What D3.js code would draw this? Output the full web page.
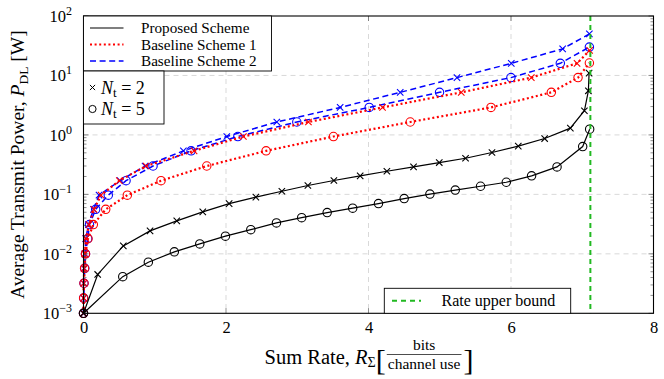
<!DOCTYPE html>
<html>
<head>
<meta charset="utf-8">
<script src="https://cdn.jsdelivr.net/npm/d3@7"></script>
<style>
body { margin: 0; background: #fff; }
text { font-family: "Liberation Serif", "DejaVu Serif", serif; fill: #000; }
</style>
</head>
<body>
<svg id="chart" width="664" height="379"></svg>
<script>
// Proposed scheme
const propRate2 = [0, 0.199, 0.559, 0.934, 1.309, 1.674, 2.044, 2.419, 2.784, 3.149, 3.514, 3.883, 4.258, 4.632, 4.993, 5.362, 5.733, 6.102, 6.472, 6.833, 7.03, 7.086, 7.096];
const propPow2  = [0.001, 0.0045, 0.0136, 0.0243, 0.0358, 0.0507, 0.070, 0.090, 0.113, 0.141, 0.171, 0.205, 0.245, 0.290, 0.343, 0.405, 0.506, 0.648, 0.869, 1.30, 2.55, 5.52, 10.97];
const propRate5 = [0, 0.551, 0.910, 1.275, 1.632, 1.992, 2.348, 2.708, 3.062, 3.420, 3.778, 4.140, 4.501, 4.862, 5.218, 5.573, 5.934, 6.289, 6.646, 7.006, 7.104];
const propPow5  = [0.001, 0.00413, 0.00723, 0.0108, 0.0147, 0.0198, 0.0255, 0.0331, 0.0406, 0.0494, 0.0586, 0.070, 0.085, 0.101, 0.118, 0.137, 0.160, 0.205, 0.290, 0.638, 1.25];

// Baseline scheme 1
const b1Rate2 = [0, 0.002, 0.004, 0.010, 0.018, 0.035, 0.077, 0.147, 0.246, 0.503, 0.878, 1.552, 2.244, 3.157, 4.197, 5.302, 6.285, 6.927, 7.104];
const b1Pow2  = [0.001, 0.0018, 0.0032, 0.0057, 0.010, 0.018, 0.031, 0.056, 0.097, 0.17, 0.30, 0.54, 0.94, 1.65, 2.9, 5.2, 9.2, 16, 26.4];
const b1Rate5 = [0, 0.002, 0.007, 0.015, 0.028, 0.063, 0.138, 0.312, 0.615, 1.088, 1.730, 2.563, 3.508, 4.586, 5.719, 6.566, 6.941, 7.100];
const b1Pow5  = [0.001, 0.0018, 0.0032, 0.0057, 0.010, 0.018, 0.031, 0.056, 0.097, 0.17, 0.30, 0.54, 0.94, 1.65, 2.9, 5.2, 9.2, 16.2];

// Baseline scheme 2
const b2Rate2 = [0, 0.002, 0.004, 0.011, 0.021, 0.032, 0.070, 0.140, 0.218, 0.513, 0.864, 1.402, 2.011, 2.713, 3.602, 4.445, 5.242, 6.004, 6.725, 7.100];
const b2Pow2  = [0.001, 0.0018, 0.0032, 0.0057, 0.010, 0.018, 0.031, 0.056, 0.097, 0.17, 0.30, 0.54, 0.94, 1.65, 2.9, 5.2, 9.2, 16, 28, 50];
const b2Rate5 = [0, 0.002, 0.007, 0.018, 0.028, 0.059, 0.084, 0.171, 0.348, 0.597, 0.976, 1.510, 2.166, 2.994, 4.010, 4.997, 5.999, 6.692, 7.100];
const b2Pow5  = [0.001, 0.0018, 0.0032, 0.0057, 0.010, 0.018, 0.031, 0.056, 0.097, 0.17, 0.30, 0.54, 0.94, 1.65, 2.9, 5.2, 9.2, 16, 30];

const rateBound = 7.114;
const xTicks = [0, 2, 4, 6, 8];
const yExps = [-3, -2, -1, 0, 1, 2];
const schemeNames = ["Proposed Scheme", "Baseline Scheme 1", "Baseline Scheme 2"];

const red = "#ff0000", blue = "#0000ff", green = "#22b922";
const styles = [
    {color: "#000", dash: null, width: 1.2},
    {color: red, dash: "2,2.6", width: 2.2},
    {color: blue, dash: "6,3.6", width: 1.5}
];

// drawn back to front: blue, red, black
const series = [
    {rate: b2Rate2, pow: b2Pow2, s: 2, m: "x"},
    {rate: b2Rate5, pow: b2Pow5, s: 2, m: "o"},
    {rate: b1Rate2, pow: b1Pow2, s: 1, m: "x"},
    {rate: b1Rate5, pow: b1Pow5, s: 1, m: "o"},
    {rate: propRate2, pow: propPow2, s: 0, m: "x"},
    {rate: propRate5, pow: propPow5, s: 0, m: "o"}
];

const L = 83.5, R = 653.5, T = 16, B = 313.3;
const x = d3.scaleLinear().domain([0, 8]).range([L, R]);
const y = d3.scaleLog().domain([1e-3, 1e2]).range([B, T]);

const svg = d3.select("#chart");

// grid
const grid = svg.append("g").attr("stroke", "#cfcfcf").attr("stroke-width", 0.8).attr("stroke-dasharray", "5,4");
grid.selectAll("line.vx").data([2, 4, 6]).enter().append("line")
    .attr("x1", d => x(d)).attr("x2", d => x(d)).attr("y1", T).attr("y2", B);
grid.selectAll("line.hy").data([1e-2, 1e-1, 1, 10]).enter().append("line")
    .attr("x1", L).attr("x2", R).attr("y1", d => y(d)).attr("y2", d => y(d));

// curves
const line = d3.line().x(d => x(d[0])).y(d => y(d[1]));
const xMark = "M-3.2,-3.2L3.2,3.2M-3.2,3.2L3.2,-3.2";

series.forEach(sr => {
    const st = styles[sr.s];
    const pts = sr.rate.map((r, i) => [r, sr.pow[i]]);
    svg.append("path").datum(pts)
        .attr("d", line)
        .attr("fill", "none")
        .attr("stroke", st.color)
        .attr("stroke-width", st.width)
        .attr("stroke-dasharray", st.dash);
    const g = svg.append("g").attr("stroke", st.color).attr("fill", "none").attr("stroke-width", 1.1);
    if (sr.m === "x") {
        g.selectAll("path").data(pts).enter().append("path")
            .attr("transform", d => `translate(${x(d[0])},${y(d[1])})`)
            .attr("d", xMark);
    } else {
        g.selectAll("circle").data(pts).enter().append("circle")
            .attr("cx", d => x(d[0])).attr("cy", d => y(d[1])).attr("r", 4.2);
    }
});

// rate upper bound
svg.append("line")
    .attr("x1", x(rateBound)).attr("x2", x(rateBound)).attr("y1", T).attr("y2", B)
    .attr("stroke", green).attr("stroke-width", 2).attr("stroke-dasharray", "5,4");

// ticks (inside, pgfplots style)
const minor = [];
yExps.slice(0, -1).forEach(e => { for (let k = 2; k <= 9; k++) minor.push(k * Math.pow(10, e)); });
const majorY = yExps.map(e => Math.pow(10, e));

const tickG = svg.append("g").attr("stroke", "#444").attr("stroke-width", 0.6);
[[L, 1], [R, -1]].forEach(([x0, dir]) => {
    tickG.append("g").selectAll("line").data(minor).enter().append("line")
        .attr("x1", x0).attr("x2", x0 + dir * 3).attr("y1", d => y(d)).attr("y2", d => y(d));
    tickG.append("g").selectAll("line").data(majorY).enter().append("line")
        .attr("x1", x0).attr("x2", x0 + dir * 5).attr("y1", d => y(d)).attr("y2", d => y(d));
});
[[B, -1], [T, 1]].forEach(([y0, dir]) => {
    tickG.append("g").selectAll("line").data(xTicks).enter().append("line")
        .attr("x1", d => x(d)).attr("x2", d => x(d)).attr("y1", y0).attr("y2", y0 + dir * 5);
});

// frame
svg.append("rect").attr("x", L).attr("y", T).attr("width", R - L).attr("height", B - T)
    .attr("fill", "none").attr("stroke", "#000").attr("stroke-width", 1.1);

// x tick labels
svg.append("g").call(d3.axisBottom(x).tickValues(xTicks).tickSize(0).tickPadding(8))
    .attr("transform", `translate(0,${B})`)
    .call(g => g.select(".domain").remove())
    .selectAll("text").attr("font-size", 16.5).attr("font-family", "Liberation Serif");

// y tick labels 10^k
const yl = svg.append("g").selectAll("text").data(yExps).enter().append("text")
    .attr("x", 72).attr("y", d => y(Math.pow(10, d)) + 6)
    .attr("text-anchor", "end").attr("font-size", 16.5);
yl.append("tspan").text("10");
yl.append("tspan").attr("dy", -7).attr("font-size", 12).text(d => d < 0 ? "\u2212" + (-d) : d);

// axis titles
const yt = svg.append("text").attr("transform", `translate(24,${(T + B) / 2}) rotate(-90)`)
    .attr("text-anchor", "middle").attr("font-size", 19.5);
yt.append("tspan").text("Average Transmit Power, ");
yt.append("tspan").attr("font-style", "italic").text("P");
yt.append("tspan").attr("font-size", 13.5).attr("dy", 4).text("DL");
yt.append("tspan").attr("dy", -4).text(" [W]");

const xt = svg.append("g");
const xMain = xt.append("text").attr("y", 363.5).attr("font-size", 20.5);
xMain.append("tspan").text("Sum Rate, ");
xMain.append("tspan").attr("font-style", "italic").text("R");
xMain.append("tspan").attr("font-size", 14).attr("dy", 3.5).text("\u03a3");
xMain.append("tspan").attr("dy", -3.5).text(" ");
const lb = xt.append("text").attr("y", 369.5).attr("font-size", 30).attr("font-weight", 100).text("[");
const fNum = xt.append("text").attr("y", 350).attr("font-size", 15.5).attr("text-anchor", "middle").text("bits");
const fDen = xt.append("text").attr("y", 368.5).attr("font-size", 15.5).attr("text-anchor", "middle").text("channel use");
const rb = xt.append("text").attr("y", 369.5).attr("font-size", 30).attr("font-weight", 100).text("]");
const wMain = xMain.node().getComputedTextLength();
const wLb = lb.node().getComputedTextLength();
const wDen = fDen.node().getComputedTextLength();
const wRb = rb.node().getComputedTextLength();
const total = wMain + wLb + wDen + 4 + wRb;
let cx = (L + R) / 2 - total / 2;
xMain.attr("x", cx); cx += wMain;
lb.attr("x", cx); cx += wLb + 1;
fNum.attr("x", cx + wDen / 2 + 1);
fDen.attr("x", cx + wDen / 2 + 1);
xt.append("line").attr("x1", cx).attr("x2", cx + wDen + 2).attr("y1", 354.5).attr("y2", 354.5)
    .attr("stroke", "#000").attr("stroke-width", 0.7);
cx += wDen + 4;
rb.attr("x", cx);

// legend: schemes
const lg1 = svg.append("g");
lg1.append("rect").attr("x", L).attr("y", T).attr("width", 188).attr("height", 55)
    .attr("fill", "#fff").attr("stroke", "#000").attr("stroke-width", 0.9);
schemeNames.forEach((name, i) => {
    const yy = 28 + i * 16.5;
    const st = styles[i];
    lg1.append("line").attr("x1", 90).attr("x2", 123.5).attr("y1", yy).attr("y2", yy)
        .attr("stroke", st.color).attr("stroke-width", st.width).attr("stroke-dasharray", st.dash);
    lg1.append("text").attr("x", 141).attr("y", yy + 5).attr("font-size", 15.2).text(name);
});

// legend: antennas
const lg2 = svg.append("g");
lg2.append("rect").attr("x", L).attr("y", 71).attr("width", 80.5).attr("height", 53)
    .attr("fill", "#fff").attr("stroke", "#000").attr("stroke-width", 0.9);
[{m: "x", n: 2, yy: 87.5}, {m: "o", n: 5, yy: 109}].forEach(d => {
    if (d.m === "x") {
        lg2.append("path").attr("transform", `translate(92.5,${d.yy})`)
            .attr("d", "M-2.6,-2.6L2.6,2.6M-2.6,2.6L2.6,-2.6").attr("stroke", "#000").attr("stroke-width", 1);
    } else {
        lg2.append("circle").attr("cx", 92.5).attr("cy", d.yy).attr("r", 3.6)
            .attr("fill", "none").attr("stroke", "#000").attr("stroke-width", 1);
    }
    const t = lg2.append("text").attr("x", 101).attr("y", d.yy + 6).attr("font-size", 18);
    t.append("tspan").attr("font-style", "italic").text("N");
    t.append("tspan").attr("font-size", 13).attr("dy", 3).text("t");
    t.append("tspan").attr("dy", -3).text(" = " + d.n);
});

// legend: bound
const lg3 = svg.append("g");
lg3.append("rect").attr("x", 384.3).attr("y", 288.3).attr("width", 186.4).attr("height", B - 288.3)
    .attr("fill", "#fff").attr("stroke", "#000").attr("stroke-width", 0.9);
lg3.append("line").attr("x1", 392).attr("x2", 421).attr("y1", 300.8).attr("y2", 300.8)
    .attr("stroke", green).attr("stroke-width", 2).attr("stroke-dasharray", "5,4");
lg3.append("text").attr("x", 441.5).attr("y", 306).attr("font-size", 16).text("Rate upper bound");
</script>
</body>
</html>
